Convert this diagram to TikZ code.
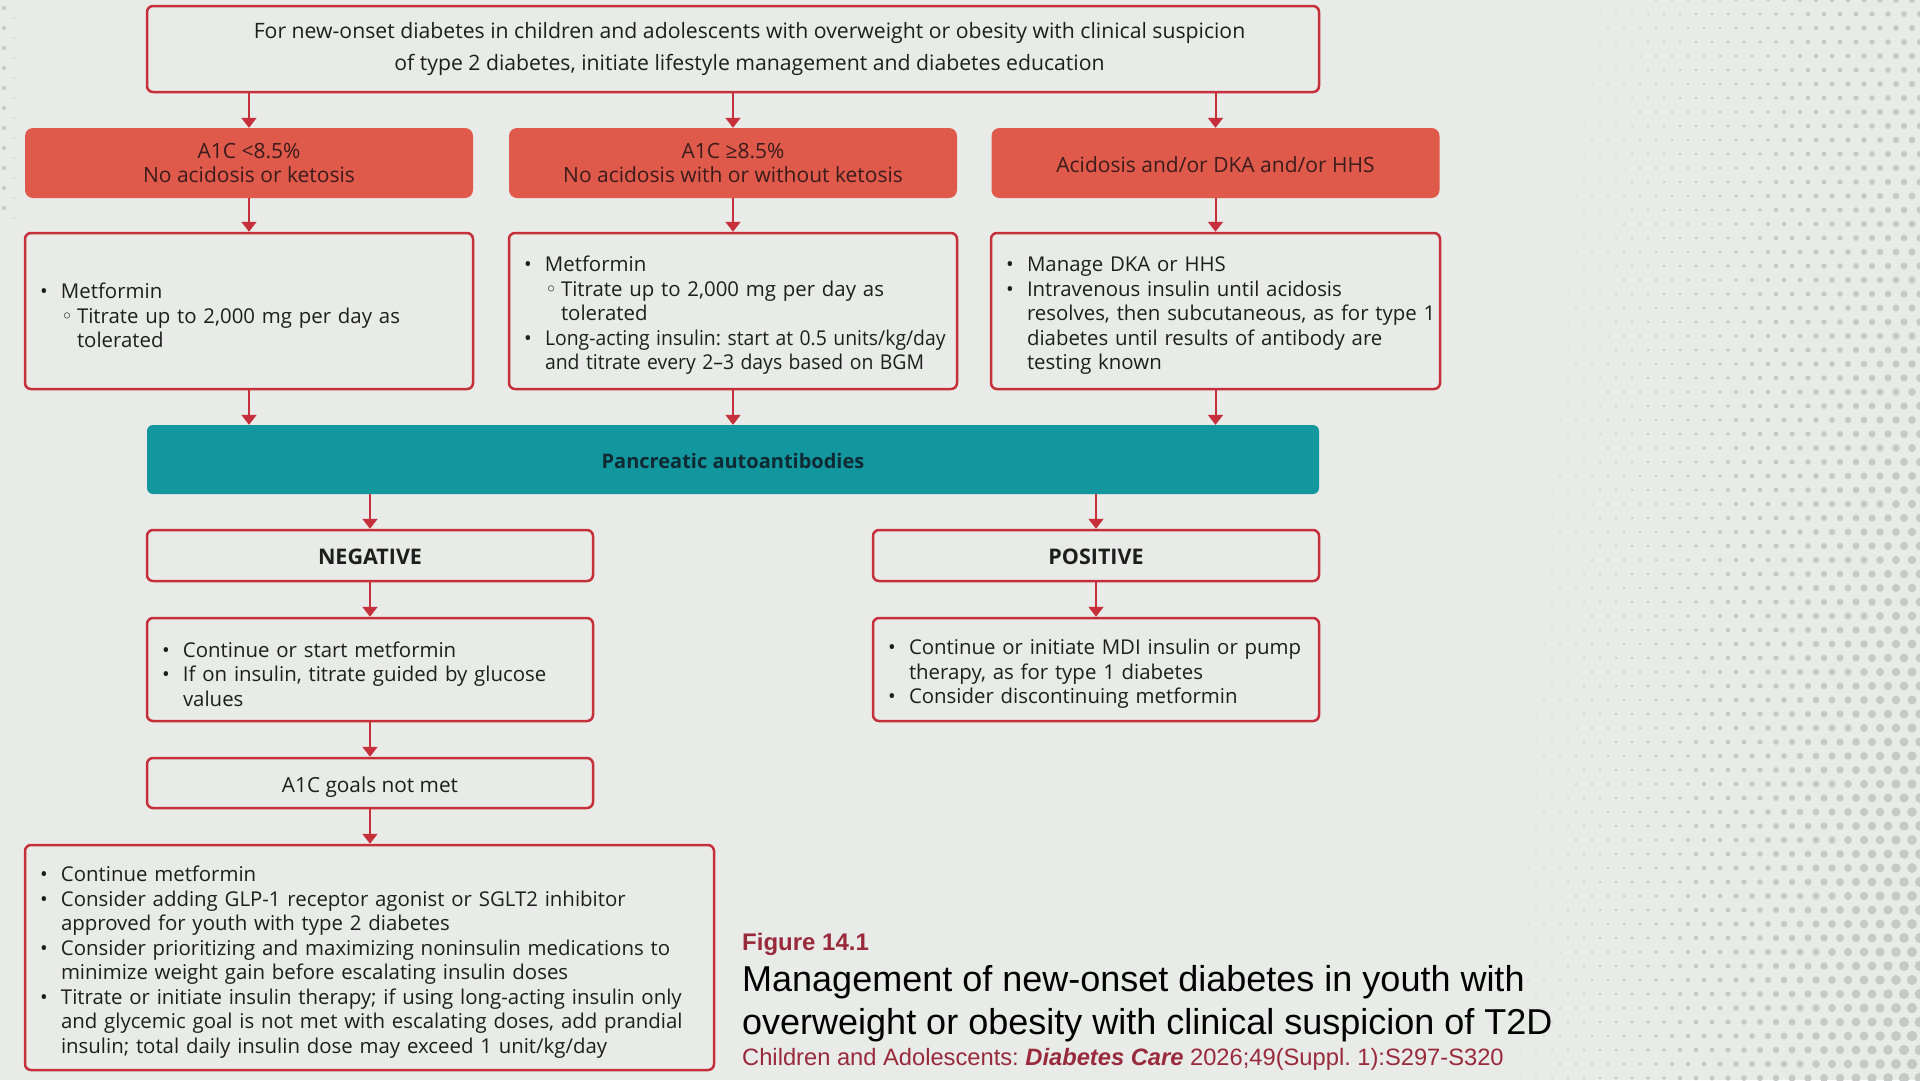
\documentclass[tikz,border=0pt]{standalone}
\usepackage{fontspec}
\usepackage{graphicx}
\setmainfont{Open Sans}
\newfontfamily\capfont{Liberation Sans}
\newfontfamily\symfont{DejaVu Sans}
\usetikzlibrary{arrows.meta}
\frenchspacing
\definecolor{bgcol}{HTML}{E9EBE8}
\definecolor{lnred}{HTML}{C5303A}
\definecolor{boxred}{HTML}{E05A4B}
\definecolor{boxteal}{HTML}{12979F}
\definecolor{inkred}{HTML}{3B1C1C}
\definecolor{inkteal}{HTML}{0F2A32}
\definecolor{inkdark}{HTML}{1E1E1E}
\definecolor{figred}{HTML}{982A3C}
\definecolor{dotcol}{HTML}{C6CAC7}
\newcommand{\bl}[1]{\par\noindent\makebox[21pt][l]{•}\mbox{#1}}
\newcommand{\cl}[1]{\par\noindent\hspace*{21pt}\mbox{#1}}
\newcommand{\sbl}[1]{\par\noindent\hspace*{21pt}\makebox[16pt][l]{\symfont ◦}\mbox{#1}}
\newcommand{\scl}[1]{\par\noindent\hspace*{37pt}\mbox{#1}}
\newcommand{\narrow}[1]{\scalebox{0.95}[1]{#1}}
\begin{document}
\begin{tikzpicture}[x=1pt,y=-1pt,>={Triangle[width=15pt,length=10pt]},
  every node/.style={font=\fontsize{20.4}{24.5}\selectfont,inner sep=0pt,text=inkdark},
  frame/.style={draw=lnred,line width=2.5pt,rounded corners=6pt,fill=bgcol},
  head/.style={fill=boxred,rounded corners=8pt,text=inkred,align=center,minimum width=448pt,minimum height=70pt,font=\fontsize{21}{24.5}\selectfont},
  list/.style={frame,align=left,inner xsep=15pt},
  oneline/.style={text height=18.5pt,text depth=0pt},
  flow/.style={->,draw=lnred,line width=2pt}]
  \useasboundingbox (0,0) rectangle (1920,1080);
  \fill[bgcol] (0,0) rectangle (1920,1080);
  \foreach \j in {0,...,77} \foreach \i in {0,...,42} {
    \pgfmathsetmacro\px{1240+16*\i+8*mod(\j,2)}
    \pgfmathsetmacro\py{14*\j}
    \pgfmathsetmacro\t{max(0,(\px-1280)/640)}
    \pgfmathsetmacro\rr{5.5*\t*\t*(0.55+0.45*\py/1080)}
    \ifdim\rr pt>0.5pt \fill[dotcol] (\px,\py) circle[radius=\rr pt]; \fi
  }
  \foreach \j in {0,...,10} {
    \fill[dotcol] (4,8+20*\j) circle[radius=2pt];
    \fill[dotcol!70!bgcol] (14,18+20*\j) circle[radius=1.2pt];
  }

  \node[frame,minimum width=1172pt,minimum height=86pt,align=center,font=\fontsize{21.2}{32}\selectfont] (top) at (733,49)
    {\hspace*{33pt}For new-onset diabetes in children and adolescents with overweight or obesity with clinical suspicion\\
     \hspace*{33pt}of type 2 diabetes, initiate lifestyle management and diabetes education};

  \node[head] (r1) at (249,163) {A1C <8.5\%\\No acidosis or ketosis};
  \node[head] (r2) at (733,163) {A1C ≥8.5\%\\No acidosis with or without ketosis};
  \node[head,oneline] (r3) at (1215.5,163) {Acidosis and/or DKA and/or HHS};

  \node[list,text width=418pt,minimum height=156pt] (m1) at (249,311)
    {\bl{Metformin}\sbl{Titrate up to 2,000 mg per day as}\scl{tolerated}};
  \node[list,text width=418pt,minimum height=156pt] (m2) at (733,311)
    {\bl{Metformin}\sbl{Titrate up to 2,000 mg per day as}\scl{tolerated}
     \bl{\narrow{Long-acting insulin: start at 0.5 units/kg/day}}\cl{\narrow{and titrate every 2–3 days based on BGM}}};
  \node[list,text width=419pt,minimum height=156pt] (m3) at (1215.5,311)
    {\bl{Manage DKA or HHS}\bl{Intravenous insulin until acidosis}\cl{resolves, then subcutaneous, as for type 1}
     \cl{diabetes until results of antibody are}\cl{testing known}};

  \node[fill=boxteal,rounded corners=6pt,minimum width=1172pt,minimum height=69pt,oneline,text=inkteal,font=\fontsize{20}{24.5}\selectfont\bfseries] (pan) at (733,459.5)
    {Pancreatic autoantibodies};

  \node[frame,oneline,minimum width=446pt,minimum height=51pt,font=\fontsize{21.5}{24.5}\selectfont\bfseries] (neg) at (370,555.5) {NEGATIVE};
  \node[frame,oneline,minimum width=446pt,minimum height=51pt,font=\fontsize{21.5}{24.5}\selectfont\bfseries] (pos) at (1096,555.5) {POSITIVE};

  \node[list,text width=416pt,minimum height=103pt] (negl) at (370,669.5)
    {\bl{Continue or start metformin}\bl{If on insulin, titrate guided by glucose}\cl{values}};
  \node[list,text width=416pt,minimum height=103pt] (posl) at (1096,669.5)
    {\bl{Continue or initiate MDI insulin or pump}\cl{therapy, as for type 1 diabetes}\bl{Consider discontinuing metformin}};

  \node[frame,oneline,minimum width=446pt,minimum height=50pt,font=\fontsize{20.8}{24.5}\selectfont] (goal) at (370,783) {A1C goals not met};

  \node[list,text width=659pt,minimum height=225pt] (fin) at (369.5,957.5)
    {\bl{Continue metformin}
     \bl{Consider adding GLP-1 receptor agonist or SGLT2 inhibitor}\cl{approved for youth with type 2 diabetes}
     \bl{Consider prioritizing and maximizing noninsulin medications to}\cl{minimize weight gain before escalating insulin doses}
     \bl{Titrate or initiate insulin therapy; if using long-acting insulin only}\cl{and glycemic goal is not met with escalating doses, add prandial}
     \cl{insulin; total daily insulin dose may exceed 1 unit/kg/day}};

  \foreach \k in {1,2,3} {
    \draw[flow] (top.south -| r\k) -- (r\k.north);
    \draw[flow] (r\k) -- (m\k);
    \draw[flow] (m\k.south) -- (m\k.south |- pan.north);
  }
  \draw[flow] (pan.south -| neg) -- (neg);
  \draw[flow] (pan.south -| pos) -- (pos);
  \draw[flow] (neg) -- (negl);
  \draw[flow] (pos) -- (posl);
  \draw[flow] (negl) -- (goal);
  \draw[flow] (goal) -- (goal |- fin.north);

  \node[anchor=base west,text=figred,font=\capfont\bfseries\fontsize{24}{28}\selectfont] (fig) at (742,950) {Figure 14.1};
  \node[anchor=north west,align=left,text=black,font=\capfont\fontsize{36}{43}\selectfont] (title) at (742,965)
    {Management of new-onset diabetes in youth with\\overweight or obesity with clinical suspicion of T2D};
  \node[anchor=base west,text=figred,font=\capfont\fontsize{23.7}{28}\selectfont] (cite) at (742,1065)
    {Children and Adolescents: \textbf{\textit{Diabetes Care}} 2026;49(Suppl. 1):S297-S320};
\end{tikzpicture}
\end{document}
